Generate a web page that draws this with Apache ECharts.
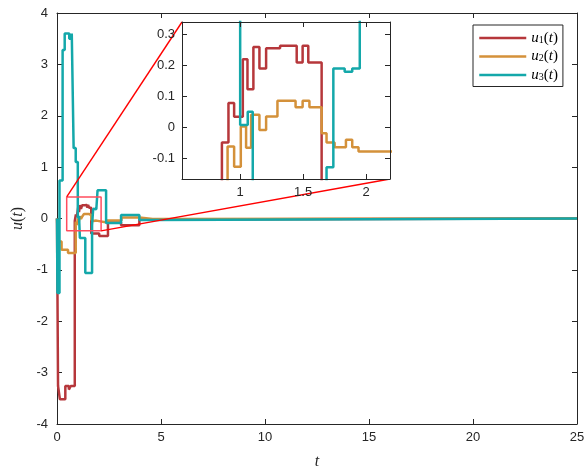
<!DOCTYPE html>
<html><head><meta charset="utf-8">
<script src="https://cdn.jsdelivr.net/npm/echarts@6/dist/echarts.min.js"></script>
<style>html,body{margin:0;padding:0;background:#fff}#c{width:587px;height:470px}</style>
</head><body><div id="c"></div>
<script>
// ---- data (step signals: value held from t[i] until t[i+1]) ----
const u1T = [0, 0.05, 0.14, 0.4, 0.57, 0.66, 0.855, 0.907, 0.952, 1.021, 1.058, 1.105, 1.153, 1.206, 1.317, 1.449, 1.496, 1.541, 1.647, 2.03, 2.45, 3.08, 3.96, 4.6, 25];
const u1V = [0, -3.26, -3.52, -3.26, -3.33, -3.26, -0.05, 0.078, 0.034, 0.22, 0.123, 0.26, 0.19, 0.256, 0.264, 0.21, 0.264, 0.21, -0.29, -0.34, -0.08, -0.13, -0.02, 0, 0];
const u2T = [0, 0.05, 0.22, 0.53, 0.9, 0.952, 1.005, 1.047, 1.087, 1.153, 1.206, 1.296, 1.44, 1.496, 1.55, 1.647, 1.686, 1.75, 1.84, 1.89, 1.94, 2.4, 3.1, 3.96, 4.6, 25];
const u2V = [0, -0.45, -0.61, -0.67, -0.063, -0.128, 0.002, -0.067, 0.04, -0.009, 0.035, 0.086, 0.065, 0.086, 0.065, -0.02, -0.05, -0.065, -0.041, -0.065, -0.079, -0.04, 0.02, -0.01, 0, 0];
const u3T = [0, 0.02, 0.12, 0.27, 0.37, 0.59, 0.71, 0.8, 0.9, 1.0, 1.06, 1.1, 1.36, 1.686, 1.74, 1.83, 1.89, 1.95, 2.36, 3.08, 3.96, 4.6, 25];
const u3V = [0, -1.45, 0.74, 3.28, 3.6, 3.5, 3.6, 1.37, 1.1, 0.007, 0.05, -0.38, -1.06, -0.13, 0.19, 0.18, 0.19, 0.55, -0.09, 0.07, -0.03, 0, 0];
const seriesNames = ['u1', 'u2', 'u3'];
const xTicks = [0, 5, 10, 15, 20, 25];
const yTicks = [-4, -3, -2, -1, 0, 1, 2, 3, 4];
const insetXTicks = [1, 1.5, 2];
const insetYTicks = [-0.1, 0, 0.1, 0.2, 0.3];
const insetXRange = [0.538, 2.19];
const insetYRange = [-0.168, 0.341];
const zoomRect = {t0: 0.466, t1: 2.12, y0: -0.24, y1: 0.42};

// ---- layout / style ----
const insetBox = {left: 182, top: 22, width: 208, height: 157};
const colors = ['#b6373b', '#d4913a', '#14a8aa'];
const axisCol = '#262626';
const font = 'Liberation Sans, Arial, Helvetica, sans-serif';
const serif = 'Liberation Serif, DejaVu Serif, serif';
const pairs = (T, V) => T.map((t, i) => [t, V[i]]);
const data = [pairs(u1T, u1V), pairs(u2T, u2V), pairs(u3T, u3V)];

function axis(grid, pos, min, max, ticks, showLabel, extra, margin) {
  const a = {
    type: 'value', gridIndex: grid, position: pos, min: min, max: max,
    axisLine: {show: true, onZero: false, lineStyle: {color: axisCol, width: 1}},
    axisTick: {show: true, inside: true, length: 5, lineStyle: {color: axisCol, width: 1}, customValues: ticks},
    axisLabel: {show: showLabel, color: axisCol, fontSize: 13, fontFamily: font, margin: margin || 8, customValues: ticks},
    splitLine: {show: false}
  };
  return Object.assign(a, extra || {});
}

const chart = echarts.init(document.getElementById('c'), null, {renderer: 'canvas'});
const legendRich = {
  u: {fontFamily: serif, fontStyle: 'italic', fontSize: 15, color: '#000', lineHeight: 14},
  p: {fontFamily: serif, fontSize: 15, color: '#000', lineHeight: 14},
  s: {fontFamily: serif, fontSize: 10, color: '#000', lineHeight: 14, verticalAlign: 'bottom', padding: [5, 0, 0, 0]}
};

const series = [];
data.forEach((d, i) => {
  series.push({name: seriesNames[i], type: 'line', step: 'end', data: d, symbol: 'none', showSymbol: false,
    xAxisIndex: 0, yAxisIndex: 0, z: 2, lineStyle: {color: colors[i], width: 2.5}, itemStyle: {color: colors[i]}, animation: false});
});
data.forEach((d, i) => {
  series.push({name: seriesNames[i] + '_inset', type: 'line', step: 'end', data: d, symbol: 'none',
    xAxisIndex: 2, yAxisIndex: 2, z: 20, lineStyle: {color: colors[i], width: 2.5}, itemStyle: {color: colors[i]}, animation: false, clip: true});
});
series.push({name: 'zoomRect', type: 'line', symbol: 'none', xAxisIndex: 0, yAxisIndex: 0, z: 3, animation: false,
  lineStyle: {color: '#ff4d5e', width: 1.5},
  data: [[zoomRect.t0, zoomRect.y1], [zoomRect.t1, zoomRect.y1], [zoomRect.t1, zoomRect.y0], [zoomRect.t0, zoomRect.y0], [zoomRect.t0, zoomRect.y1]]});
series.push({name: 'conn1', type: 'line', symbol: 'none', xAxisIndex: 0, yAxisIndex: 0, z: 3, animation: false,
  lineStyle: {color: '#ff0000', width: 1.4}, data: []});
series.push({name: 'conn2', type: 'line', symbol: 'none', xAxisIndex: 0, yAxisIndex: 0, z: 3, animation: false,
  lineStyle: {color: '#ff0000', width: 1.4}, data: []});

chart.setOption({
  animation: false,
  backgroundColor: '#fff',
  grid: [
    {left: 57, right: 10, top: 13, bottom: 46, containLabel: false, outerBoundsMode: 'none'},
    {left: insetBox.left, top: insetBox.top, width: insetBox.width, height: insetBox.height,
     show: true, backgroundColor: '#fff', borderWidth: 0, z: 15, outerBoundsMode: 'none'}
  ],
  xAxis: [
    axis(0, 'bottom', 0, 25, xTicks, true, {interval: 5,
      name: '{i|t}', nameLocation: 'middle', nameGap: 30,
      nameTextStyle: {rich: {i: {fontFamily: serif, fontStyle: 'italic', fontSize: 16, color: axisCol}}}}, 7),
    axis(0, 'top', 0, 25, xTicks, false, {interval: 5}),
    axis(1, 'bottom', insetXRange[0], insetXRange[1], insetXTicks, true, {z: 25}, 7),
    axis(1, 'top', insetXRange[0], insetXRange[1], insetXTicks, false, {z: 25})
  ],
  yAxis: [
    axis(0, 'left', -4, 4, yTicks, true, {interval: 1,
      name: '{i|u}{p|(}{i|t}{p|)}', nameLocation: 'middle', nameGap: 20, nameRotate: 90,
      nameTextStyle: {rich: {i: {fontFamily: serif, fontStyle: 'italic', fontSize: 16, color: axisCol},
                             p: {fontFamily: serif, fontSize: 16, color: axisCol}}}}, 9),
    axis(0, 'right', -4, 4, yTicks, false, {interval: 1}),
    axis(1, 'left', insetYRange[0], insetYRange[1], insetYTicks, true, {z: 25}, 7),
    axis(1, 'right', insetYRange[0], insetYRange[1], insetYTicks, false, {z: 25})
  ],
  legend: {
    data: seriesNames, left: 473, top: 25, orient: 'vertical',
    backgroundColor: '#fff', borderColor: axisCol, borderWidth: 1,
    padding: [5, 5, 4, 5], itemWidth: 47, itemHeight: 14, itemGap: 3,
    itemStyle: {opacity: 0}, lineStyle: {width: 2.5},
    selectedMode: false, z: 30,
    formatter: name => '{u|u}{s|' + (seriesNames.indexOf(name) + 1) + '}{p|(}{u|t}{p|)}',
    textStyle: {rich: legendRich}
  },
  series: series
});

// connectors from zoom rectangle corners to inset corners (inset corners in main data space)
const tl = chart.convertFromPixel({xAxisIndex: 0, yAxisIndex: 0}, [insetBox.left, insetBox.top]);
const br = chart.convertFromPixel({xAxisIndex: 0, yAxisIndex: 0}, [insetBox.left + insetBox.width, insetBox.top + insetBox.height]);
chart.setOption({series: [
  {name: 'conn1', data: [[zoomRect.t0, zoomRect.y1], tl]},
  {name: 'conn2', data: [[zoomRect.t1, zoomRect.y0], br]}
]});
</script></body></html>
